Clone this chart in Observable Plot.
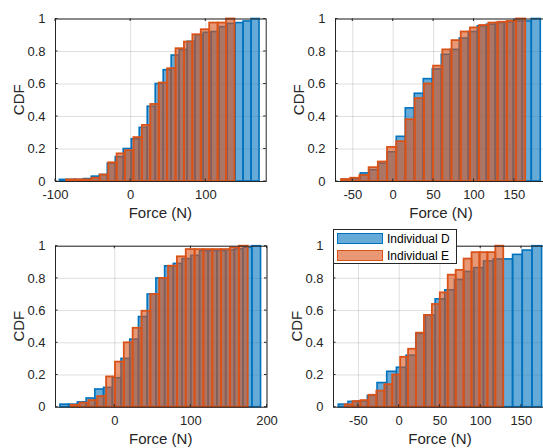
<!DOCTYPE html>
<html><head><meta charset="utf-8">
<script src="https://cdn.jsdelivr.net/npm/d3@7"></script>
<script src="https://cdn.jsdelivr.net/npm/@observablehq/plot@0.6"></script>
<style>
html,body{margin:0;padding:0;background:#fff;overflow:hidden;}
#wrap{position:relative;width:543px;height:448px;overflow:hidden;font-family:"Liberation Sans",Arial,sans-serif;}
.panel{position:absolute;}
.legend{position:absolute;left:333px;top:229px;width:122px;height:33px;background:#fff;border:1px solid #262626;z-index:5;font-size:12px;color:#000;}
.sw{position:absolute;left:3px;width:44px;height:9px;}
.lt{position:absolute;left:53px;line-height:14px;white-space:nowrap;}
</style></head><body><div id="wrap"></div>
<script>
// ---- data (Force in N, CDF values per bin) ----
const yTicks = [0, 0.2, 0.4, 0.6, 0.8, 1];
const seriesNames = ["Individual D", "Individual E"];

const p1Ticks = [-100, 0, 100];
const p1DStart = -94.2, p1DWidth = 10.63;
const p1D = [0.01,0.01,0.01,0.015,0.03,0.04,0.11,0.15,0.2,0.26,0.33,0.46,0.6,0.685,0.775,0.81,0.86,0.9,0.915,0.92,0.95,0.97,0.975,0.985,1.0];
const p1EStart = -85.2, p1EWidth = 11.2;
const p1E = [0.01,0.01,0.01,0.02,0.04,0.115,0.17,0.19,0.27,0.345,0.474,0.606,0.694,0.817,0.858,0.903,0.934,0.975,0.975,1.0];

const p2Ticks = [-50, 0, 50, 100, 150];
const p2DStart = -62.4, p2DWidth = 11.14;
const p2D = [0.01,0.015,0.05,0.07,0.11,0.18,0.275,0.45,0.54,0.63,0.69,0.78,0.81,0.88,0.92,0.955,0.965,0.975,0.98,0.985,0.985,1.0];
const p2EStart = -64, p2EWidth = 11.4;
const p2E = [0.012,0.02,0.037,0.085,0.12,0.21,0.245,0.38,0.51,0.6,0.71,0.81,0.867,0.92,0.945,0.96,0.975,0.98,0.985,1.0];

const p3Ticks = [0, 100, 200];
const p3DStart = -71.4, p3DWidth = 11.46;
const p3D = [0.016,0.016,0.03,0.054,0.11,0.12,0.18,0.3,0.42,0.56,0.7,0.8,0.875,0.89,0.92,0.94,0.97,0.97,0.97,0.975,0.98,0.99,1.0];
const p3EStart = -57.3, p3EWidth = 11.63;
const p3E = [0.012,0.025,0.041,0.066,0.188,0.28,0.4,0.49,0.596,0.7,0.8,0.876,0.934,0.979,0.979,0.979,0.979,0.979,0.99,1.0];

const p4Ticks = [-50, 0, 50, 100, 150];
const p4DStart = -74.1, p4DWidth = 11.88;
const p4D = [0.016,0.033,0.035,0.07,0.15,0.22,0.245,0.32,0.455,0.57,0.67,0.726,0.79,0.84,0.864,0.905,0.918,0.918,0.946,0.973,1.0];
const p4EStart = -66.3, p4EWidth = 9.73;
const p4E = [0.015,0.035,0.041,0.074,0.1,0.14,0.2,0.31,0.36,0.46,0.57,0.638,0.71,0.82,0.85,0.92,0.96,0.96,0.96,1.0];

// ---- styling ----
const FONT = '"Liberation Sans", Arial, sans-serif';
const blue = "#0072BD", orange = "#D95319", axisColor = "#262626";
const wrap = document.getElementById("wrap");

function bins(start, w, vals) {
  return vals.map((v, i) => ({x1: start + i * w, x2: start + (i + 1) * w, y: v}));
}

function makePanel(c) {
  const W = c.width, H = c.height;
  const px0 = c.mL, px1 = W - c.mR, py0 = c.mT, py1 = H - c.mB;
  const D = bins(c.dStart, c.dWidth, c.dVals);
  const E = bins(c.eStart, c.eWidth, c.eVals);
  const svg = Plot.plot({
    width: W, height: H,
    marginLeft: c.mL, marginRight: c.mR, marginTop: c.mT, marginBottom: c.mB,
    style: {fontFamily: FONT, fontSize: "13px", color: axisColor, background: "transparent", overflow: "visible"},
    x: {domain: c.xDomain},
    y: {domain: [0, 1]},
    marks: [
      Plot.gridX(c.xTicks, {stroke: axisColor, strokeOpacity: 0.15}),
      Plot.gridY(yTicks, {stroke: axisColor, strokeOpacity: 0.15}),
      Plot.rectY(D, {x1: "x1", x2: "x2", y: "y", fill: blue, fillOpacity: 0.6, stroke: blue, strokeWidth: 1.6}),
      Plot.rectY(E, {x1: "x1", x2: "x2", y: "y", fill: orange, fillOpacity: 0.6, stroke: orange, strokeWidth: 1.8}),
      Plot.axisX(c.xTicks, {tickSize: 0, tickPadding: c.tickPad, tickFormat: d => String(d), label: null}),
      Plot.axisY(yTicks, {tickSize: 0, tickPadding: 10, tickFormat: d => String(d), label: null}),
      Plot.frame({stroke: axisColor, strokeWidth: 1})
    ]
  });
  const sx = v => px0 + (v - c.xDomain[0]) / (c.xDomain[1] - c.xDomain[0]) * (px1 - px0);
  const sy = v => py1 - v * (py1 - py0);
  const s = d3.select(svg);
  const g = s.append("g").attr("stroke", axisColor).attr("stroke-width", 1);
  c.xTicks.forEach(t => {
    const x = sx(t);
    g.append("line").attr("x1", x).attr("x2", x).attr("y1", py1).attr("y2", py1 - 2.5);
    g.append("line").attr("x1", x).attr("x2", x).attr("y1", py0).attr("y2", py0 + 2.5);
  });
  yTicks.forEach(t => {
    const y = sy(t);
    g.append("line").attr("x1", px0).attr("x2", px0 + 2.5).attr("y1", y).attr("y2", y);
    g.append("line").attr("x1", px1).attr("x2", px1 - 2.5).attr("y1", y).attr("y2", y);
  });
  s.append("text").text("Force (N)")
    .attr("x", (px0 + px1) / 2).attr("y", py1 + c.labelOff)
    .attr("text-anchor", "middle").attr("fill", axisColor)
    .style("font-size", "15px").style("font-family", FONT);
  s.append("text").text("CDF")
    .attr("transform", `translate(${px0 - 31},${(py0 + py1) / 2}) rotate(-90)`)
    .attr("text-anchor", "middle").attr("fill", axisColor)
    .style("font-size", "15px").style("font-family", FONT);
  svg.classList.add("panel");
  svg.style.left = c.left + "px";
  svg.style.top = c.top + "px";
  wrap.appendChild(svg);
}

makePanel({left: 0, top: 0, width: 272, height: 224, mL: 55, mR: 6.3, mT: 18.5, mB: 43,
  xDomain: [-100, 180.4], xTicks: p1Ticks, labelOff: 37, tickPad: 8,
  dStart: p1DStart, dWidth: p1DWidth, dVals: p1D, eStart: p1EStart, eWidth: p1EWidth, eVals: p1E});
makePanel({left: 272, top: 0, width: 280, height: 224, mL: 63, mR: 5, mT: 18.5, mB: 43,
  xDomain: [-71.4, 191], xTicks: p2Ticks, labelOff: 37, tickPad: 8,
  dStart: p2DStart, dWidth: p2DWidth, dVals: p2D, eStart: p2EStart, eWidth: p2EWidth, eVals: p2E});
makePanel({left: 0, top: 224, width: 272, height: 224, mL: 55, mR: 5.5, mT: 21.7, mB: 41.3,
  xDomain: [-77.9, 200], xTicks: p3Ticks, labelOff: 37, tickPad: 8.5,
  dStart: p3DStart, dWidth: p3DWidth, dVals: p3D, eStart: p3EStart, eWidth: p3EWidth, eVals: p3E});
makePanel({left: 272, top: 224, width: 280, height: 224, mL: 61, mR: 5, mT: 21.7, mB: 41.3,
  xDomain: [-80.6, 182], xTicks: p4Ticks, labelOff: 37, tickPad: 8.5,
  dStart: p4DStart, dWidth: p4DWidth, dVals: p4D, eStart: p4EStart, eWidth: p4EWidth, eVals: p4E});

// legend
const leg = document.createElement("div");
leg.className = "legend";
[[blue, 0], [orange, 1]].forEach(([col, i]) => {
  const sw = document.createElement("div");
  sw.className = "sw";
  sw.style.top = (3 + i * 16.5) + "px";
  sw.style.background = d3.color(col).copy({opacity: 0.6}).toString();
  sw.style.border = "1.5px solid " + col;
  leg.appendChild(sw);
  const t = document.createElement("div");
  t.className = "lt";
  t.style.top = (2 + i * 16.5) + "px";
  t.textContent = seriesNames[i];
  leg.appendChild(t);
});
wrap.appendChild(leg);
</script>
</body></html>
